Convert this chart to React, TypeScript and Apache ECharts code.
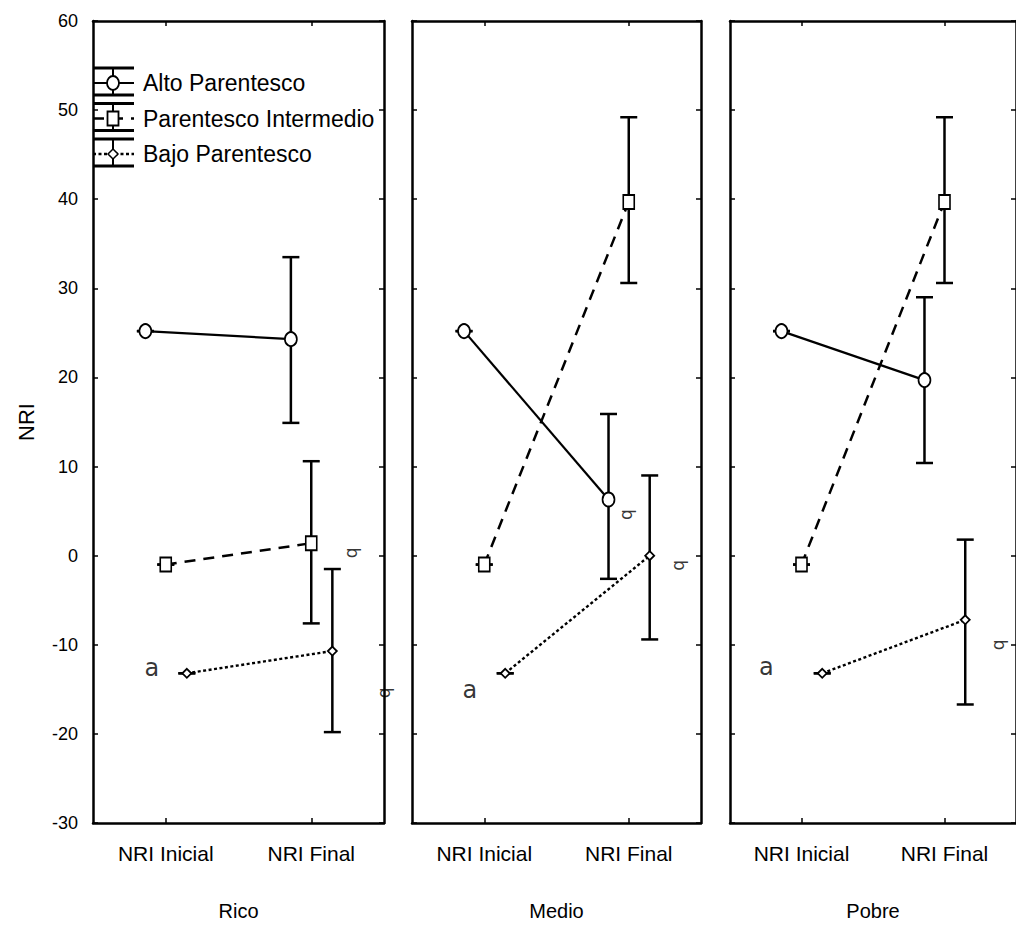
import React, { useEffect, useRef } from "react";
import * as echarts from "echarts";

// ---- data ----
const categories = ["NRI Inicial", "NRI Final"];
const panels = ["Rico", "Medio", "Pobre"];
const groups = ["Alto Parentesco", "Parentesco Intermedio", "Bajo Parentesco"];
const yMin = -30;
const yMax = 60;
const yStep = 10;

// means per panel: [Inicial, Final]
const altoMeans = [[25.2, 24.3], [25.2, 6.3], [25.2, 19.7]];
const interMeans = [[-1.0, 1.4], [-1.0, 39.7], [-1.0, 39.7]];
const bajoMeans = [[-13.2, -10.7], [-13.2, 0.0], [-13.2, -7.2]];

// error bar limits per panel: [Inicial, Final]
const altoLow = [[25.2, 14.9], [25.2, -2.6], [25.2, 10.4]];
const altoHigh = [[25.2, 33.5], [25.2, 15.9], [25.2, 29.0]];
const interLow = [[-1.0, -7.6], [-1.0, 30.6], [-1.0, 30.6]];
const interHigh = [[-1.0, 10.6], [-1.0, 49.2], [-1.0, 49.2]];
const bajoLow = [[-13.2, -19.8], [-13.2, -9.4], [-13.2, -16.7]];
const bajoHigh = [[-13.2, -1.5], [-13.2, 9.0], [-13.2, 1.8]];

// annotation letters: [panel, x (0..4 panel units), y value, text]
const annotPanel = [0, 0, 0, 1, 1, 1, 2, 2];
const annotX = [0.81, 3.57, 4.03, 0.8, 2.99, 3.71, 0.51, 3.78];
const annotY = [-12.6, 0.3, -15.4, -15.1, 4.6, -1.1, -12.5, -10.0];
const annotText = ["a", "b", "b", "a", "b", "b", "a", "b"];

// ---- layout / style ----
const FONT = "Liberation Sans, Arial, sans-serif";
const gridLeft = [93, 412, 730];
const gridWidth = [291, 289, 291];
const gridTop = 21;
const gridHeight = 802;
const catPos = [1, 3];
const groupOffset = [-0.28, 0, 0.29];
const groupSymbol = ["circle", "rect", "diamond"];
const groupSymbolSize: any[] = [[12, 14], [11, 14], [9, 9]];
const groupDash: any[] = ["solid", [11, 8], [3, 2.5]];
const groupWidth = [2.2, 2.5, 2.4];

export default function App() {
  const ref = useRef<HTMLDivElement>(null);
  useEffect(() => {
    if (!ref.current) return;
    const chart = echarts.init(ref.current, null, { renderer: "svg" });

    const means = [altoMeans, interMeans, bajoMeans];
    const lows = [altoLow, interLow, bajoLow];
    const highs = [altoHigh, interHigh, bajoHigh];

    const grid: any[] = [];
    const xAxis: any[] = [];
    const yAxis: any[] = [];
    const series: any[] = [];

    const lineStyleAxis = { color: "#000", width: 2.5 };

    panels.forEach((pname, i) => {
      grid.push({ left: gridLeft[i], width: gridWidth[i], top: gridTop, height: gridHeight });
      xAxis.push({
        type: "category",
        gridIndex: i,
        position: "bottom",
        data: categories,
        boundaryGap: true,
        axisLine: { show: true, onZero: false, lineStyle: lineStyleAxis },
        axisTick: { show: true, inside: true, alignWithLabel: true, length: 5, lineStyle: { color: "#000", width: 1.5 } },
        axisLabel: { color: "#000", fontSize: 21, fontFamily: FONT, margin: 20 },
        name: pname,
        nameLocation: "middle",
        nameGap: 78,
        nameTextStyle: { color: "#000", fontSize: 20, fontFamily: FONT },
        splitLine: { show: false },
      });
      xAxis.push({
        type: "category",
        gridIndex: i,
        position: "top",
        data: categories,
        boundaryGap: true,
        axisLine: { show: true, onZero: false, lineStyle: lineStyleAxis },
        axisTick: { show: true, inside: true, alignWithLabel: true, length: 5, lineStyle: { color: "#000", width: 1.5 } },
        axisLabel: { show: false },
        splitLine: { show: false },
      });
      xAxis.push({
        type: "value",
        gridIndex: i,
        min: 0,
        max: 4,
        show: false,
        splitLine: { show: false },
      });
      yAxis.push({
        type: "value",
        gridIndex: i,
        position: "left",
        min: yMin,
        max: yMax,
        interval: yStep,
        axisLine: { show: true, onZero: false, lineStyle: lineStyleAxis },
        axisTick: { show: true, inside: true, length: 5, lineStyle: { color: "#000", width: 1.5 } },
        axisLabel: { show: i === 0, color: "#000", fontSize: 18, fontFamily: FONT, margin: 15 },
        splitLine: { show: false },
        name: i === 0 ? "NRI" : "",
        nameLocation: "middle",
        nameGap: 56,
        nameRotate: 90,
        nameTextStyle: { color: "#000", fontSize: 22, fontFamily: FONT },
      });
      yAxis.push({
        type: "value",
        gridIndex: i,
        position: "right",
        min: yMin,
        max: yMax,
        interval: yStep,
        axisLine: { show: true, onZero: false, lineStyle: lineStyleAxis },
        axisTick: { show: true, inside: true, length: 5, lineStyle: { color: "#000", width: 1.5 } },
        axisLabel: { show: false },
        splitLine: { show: false },
      });

      groups.forEach((g, k) => {
        const xs = catPos.map((c) => c + groupOffset[k]);
        series.push({
          type: "custom",
          name: g + " err",
          xAxisIndex: 3 * i + 2,
          yAxisIndex: 2 * i,
          z: 2,
          silent: true,
          encode: { x: 0, y: [1, 2] },
          data: xs.map((x, j) => [x, lows[k][i][j], highs[k][i][j]]),
          renderItem: (_params: any, api: any) => {
            const x = api.value(0);
            const p1 = api.coord([x, api.value(2)]);
            const p2 = api.coord([x, api.value(1)]);
            const hw = 8.5;
            const st = { stroke: "#000", lineWidth: 2.5, fill: "none" };
            return {
              type: "group",
              children: [
                { type: "line", shape: { x1: p1[0], y1: p1[1], x2: p2[0], y2: p2[1] }, style: st },
                { type: "line", shape: { x1: p1[0] - hw, y1: p1[1], x2: p1[0] + hw, y2: p1[1] }, style: st },
                { type: "line", shape: { x1: p2[0] - hw, y1: p2[1], x2: p2[0] + hw, y2: p2[1] }, style: st },
              ],
            };
          },
        });
        series.push({
          type: "line",
          name: g,
          xAxisIndex: 3 * i + 2,
          yAxisIndex: 2 * i,
          z: 3,
          data: xs.map((x, j) => [x, means[k][i][j]]),
          symbol: groupSymbol[k],
          symbolSize: groupSymbolSize[k],
          showAllSymbol: true,
          lineStyle: { color: "#000", width: groupWidth[k], type: groupDash[k] },
          itemStyle: { color: "#fff", borderColor: "#000", borderWidth: 1.8 },
        });
      });

      const ann = annotText
        .map((t, idx) => ({ t, idx }))
        .filter((o) => annotPanel[o.idx] === i)
        .map((o) => ({
          value: [annotX[o.idx], annotY[o.idx]],
          name: o.t,
          label: o.t === "a"
            ? { fontSize: 24, rotate: 0 }
            : { fontSize: 17, rotate: -90 },
        }));
      series.push({
        type: "scatter",
        xAxisIndex: 3 * i + 2,
        yAxisIndex: 2 * i,
        clip: false,
        silent: true,
        z: 4,
        symbolSize: 1,
        itemStyle: { color: "rgba(0,0,0,0)" },
        data: ann,
        label: {
          show: true,
          position: "inside",
          formatter: (p: any) => p.name,
          color: "#000",
          fontFamily: "DejaVu Sans, sans-serif",
        },
      });
    });

    // legend drawn as error-bar symbols
    const legendGraphics: any[] = [];
    groups.forEach((g, k) => {
      const y0 = 83 + 35.5 * k;
      const x1 = 93;
      const x2 = 134;
      const xm = 113;
      const st = { stroke: "#000", lineWidth: 3 };
      legendGraphics.push(
        { type: "line", shape: { x1, y1: y0 - 15, x2, y2: y0 - 15 }, style: st, z: 10 },
        { type: "line", shape: { x1, y1: y0 + 12, x2, y2: y0 + 12 }, style: st, z: 10 },
        { type: "line", shape: { x1: xm, y1: y0 - 15, x2: xm, y2: y0 + 12 }, style: { stroke: "#000", lineWidth: 2 }, z: 10 },
        {
          type: "line",
          shape: { x1, y1: y0, x2, y2: y0 },
          style: { stroke: "#000", lineWidth: groupWidth[k], lineDash: groupDash[k] === "solid" ? null : groupDash[k] },
          z: 10,
        }
      );
      if (k === 0) {
        legendGraphics.push({ type: "ellipse", shape: { cx: xm, cy: y0, rx: 6, ry: 7 }, style: { fill: "#fff", stroke: "#000", lineWidth: 1.8 }, z: 11 });
      } else if (k === 1) {
        legendGraphics.push({ type: "rect", shape: { x: xm - 5.5, y: y0 - 7, width: 11, height: 14 }, style: { fill: "#fff", stroke: "#000", lineWidth: 1.8 }, z: 11 });
      } else {
        legendGraphics.push({
          type: "polygon",
          shape: { points: [[xm, y0 - 5], [xm + 5, y0], [xm, y0 + 5], [xm - 5, y0]] },
          style: { fill: "#fff", stroke: "#000", lineWidth: 1.5 },
          z: 11,
        });
      }
      legendGraphics.push({
        type: "text",
        x: 143,
        y: y0,
        style: { text: g, fill: "#000", font: `23px ${FONT}`, verticalAlign: "middle", align: "left" },
        z: 11,
      });
    });

    chart.setOption({
      animation: false,
      backgroundColor: "#fff",
      grid,
      xAxis,
      yAxis,
      series,
      graphic: legendGraphics,
    });
    return () => chart.dispose();
  }, []);
  return <div ref={ref} style={{ position: "absolute", left: 0, top: 0, width: 1016, height: 930 }} />;
}
